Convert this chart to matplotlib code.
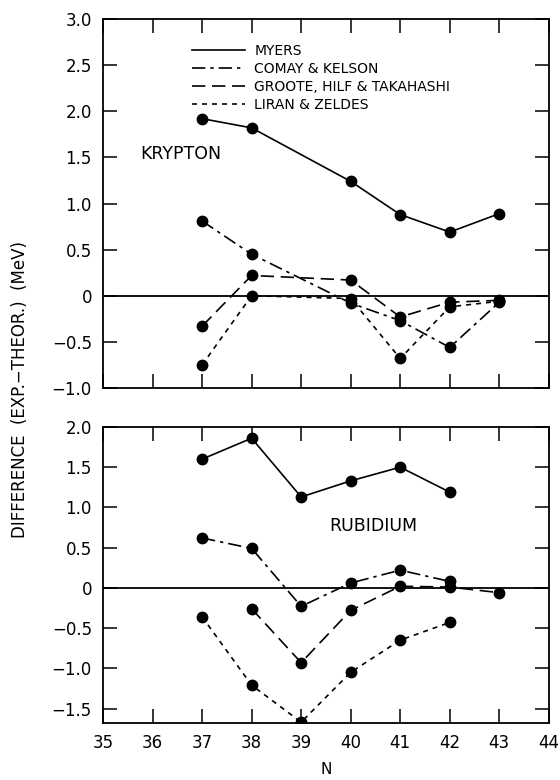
import matplotlib
matplotlib.use("Agg")
import matplotlib.pyplot as plt
from matplotlib.lines import Line2D

plt.rc('font', family='DejaVu Sans')

# ---- data ----
kr_myers_n = [37, 38, 40, 41, 42, 43]
kr_myers = [1.92, 1.82, 1.24, 0.88, 0.69, 0.89]
kr_comay_n = [37, 38, 40, 41, 42, 43]
kr_comay = [0.81, 0.45, -0.08, -0.27, -0.56, -0.07]
kr_groote_n = [37, 38, 40, 41, 42, 43]
kr_groote = [-0.33, 0.22, 0.17, -0.23, -0.07, -0.05]
kr_liran_n = [37, 38, 40, 41, 42, 43]
kr_liran = [-0.75, 0.0, -0.03, -0.68, -0.12, -0.06]

rb_myers_n = [37, 38, 39, 40, 41, 42]
rb_myers = [1.60, 1.86, 1.13, 1.33, 1.50, 1.19]
rb_comay_n = [37, 38, 39, 40, 41, 42]
rb_comay = [0.62, 0.49, -0.23, 0.06, 0.22, 0.08]
rb_groote_n = [38, 39, 40, 41, 42, 43]
rb_groote = [-0.26, -0.93, -0.28, 0.02, 0.01, -0.06]
rb_liran_n = [37, 38, 39, 40, 41, 42]
rb_liran = [-0.36, -1.21, -1.67, -1.05, -0.65, -0.43]

labels = ['MYERS', 'COMAY & KELSON', 'GROOTE, HILF & TAKAHASHI', 'LIRAN & ZELDES']
styles = ['-', (0, (8, 3, 2, 3)), (0, (8, 4)), (0, (3, 3))]

x_ticks = list(range(35, 45))
kr_yticks = [3.0, 2.5, 2.0, 1.5, 1.0, 0.5, 0, -0.5, -1.0]
rb_yticks = [2.0, 1.5, 1.0, 0.5, 0, -0.5, -1.0, -1.5]


def fmt(v):
    if v == 0:
        return '0'
    return f'{v:.1f}'.replace('-', '\u2212')


def draw_panel(ax, series, yticks, ylim):
    ax.axhline(0, color='black', lw=1.3)
    for (n, v), ls in zip(series, styles):
        ax.plot(n, v, color='black', ls=ls, lw=1.2, marker='o', ms=7.5)
    ax.set_xlim(35, 44)
    ax.set_ylim(*ylim)
    ax.set_xticks(x_ticks)
    ax.set_yticks(yticks)
    ax.set_yticklabels([fmt(t) for t in yticks])
    ax.tick_params(direction='in', length=10, width=1.1, top=True, right=True,
                   labelsize=12, pad=8)
    for s in ax.spines.values():
        s.set_linewidth(1.3)


fig = plt.figure(figsize=(5.6, 7.8), dpi=100)
ax1 = fig.add_axes([0.184, 0.5026, 0.796, 0.473])
ax2 = fig.add_axes([0.184, 0.0731, 0.796, 0.3795])

draw_panel(ax1, [(kr_myers_n, kr_myers), (kr_comay_n, kr_comay),
                 (kr_groote_n, kr_groote), (kr_liran_n, kr_liran)],
           kr_yticks, (-1.0, 3.0))
ax1.tick_params(labelbottom=False)
ax1.text(0.083, 0.635, 'KRYPTON', transform=ax1.transAxes, fontsize=12.5,
         va='center', ha='left')

draw_panel(ax2, [(rb_myers_n, rb_myers), (rb_comay_n, rb_comay),
                 (rb_groote_n, rb_groote), (rb_liran_n, rb_liran)],
           rb_yticks, (-1.68, 2.0))
ax2.text(0.507, 0.665, 'RUBIDIUM', transform=ax2.transAxes, fontsize=12.5,
         va='center', ha='left')
ax2.set_xlabel('N', fontsize=11, labelpad=7)

handles = [Line2D([], [], color='black', ls=ls, lw=1.2) for ls in styles]
ax1.legend(handles, labels, loc='upper left', bbox_to_anchor=(0.187, 0.948),
           frameon=False, fontsize=10, handlelength=3.8, handletextpad=0.7,
           labelspacing=0.3, borderaxespad=0)

fig.text(0.035, 0.5, 'DIFFERENCE  (EXP.\u2212THEOR.)  (MeV)', rotation=90,
         va='center', ha='center', fontsize=12)

fig.savefig('out.png', dpi=100)
